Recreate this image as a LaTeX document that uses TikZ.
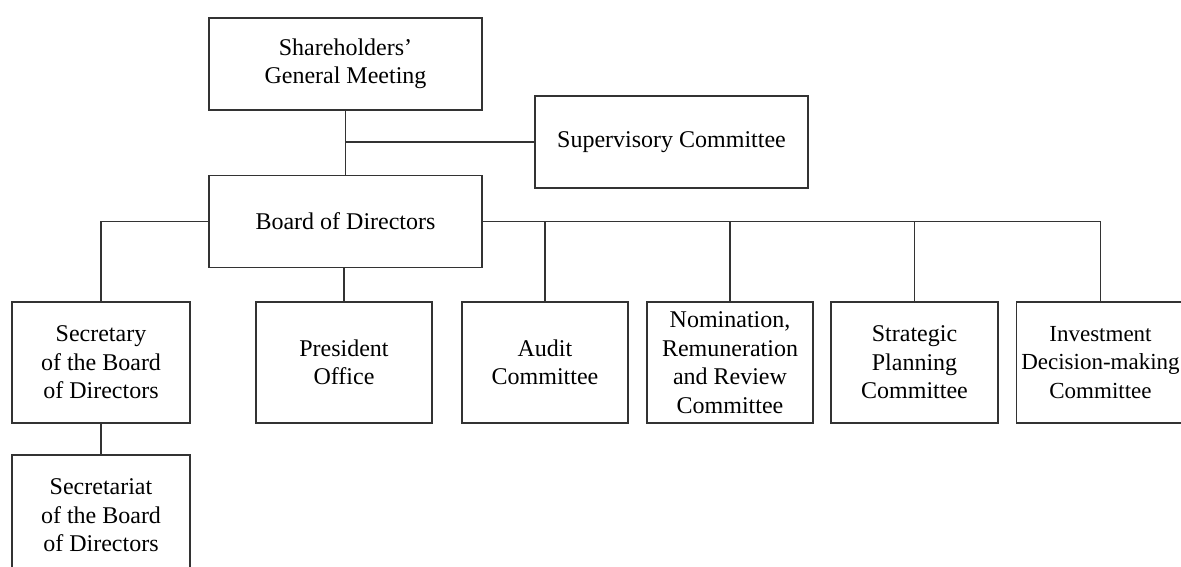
\documentclass[tikz,border=0pt]{standalone}
\usepackage{fontspec}
\setmainfont{Liberation Serif}
\tikzset{
  unit/.style = {draw=black!80, line width=1.1pt, align=center, inner sep=0pt,
                 minimum height=121pt, font=\fontsize{24}{28.5}\selectfont},
  head/.style = {unit, minimum width=273pt, minimum height=92pt},
  link/.style = {draw=black!80, line width=1.1pt}
}

\begin{document}
\begin{tikzpicture}[x=1pt, y=-1pt]
\useasboundingbox (0,0) rectangle (1181,566);
% top levels
\node[head] (meeting) at (345.5,64)  {Shareholders'\\General Meeting};
\node[head] (superv)  at (671.5,142) {Supervisory Committee};
\node[head] (board)   at (345.5,221.5) {Board of Directors};
% units under the board
\foreach \nm/\cx/\bw/\txt in {%
  secretary/101/178/{Secretary\\of the Board\\of Directors},
  president/344/176/{President\\Office},
  audit/545/166/{Audit\\Committee},
  nomination/730/166/{Nomination,\\Remuneration\\and Review\\Committee},
  strategy/914.5/167/{Strategic\\Planning\\Committee}} {
  \node[unit, minimum width=\bw pt] (\nm) at (\cx,362.5) {\txt};
}
\node[unit, minimum width=168pt, font=\fontsize{23}{28.5}\selectfont] (invest)
  at (1100.5,362.5) {Investment\\Decision-making\\Committee};
\node[unit, minimum width=178pt] (secretariat) at (101,515.5)
  {Secretariat\\of the Board\\of Directors};
% connectors
\draw[link] (meeting.south) -- (board.north);
\draw[link] (superv.west) -- (superv.west -| meeting.south);
\draw[link] (board.west) -| (secretary.north);
\draw[link] (board.east) -| (invest.north);
\foreach \nm in {audit, nomination, strategy}
  \draw[link] (\nm.north) -- (\nm.north |- board.east);
\draw[link] (president.north) -- (president.north |- board.south);
\draw[link] (secretary.south) -- (secretariat.north);
\end{tikzpicture}
\end{document}
